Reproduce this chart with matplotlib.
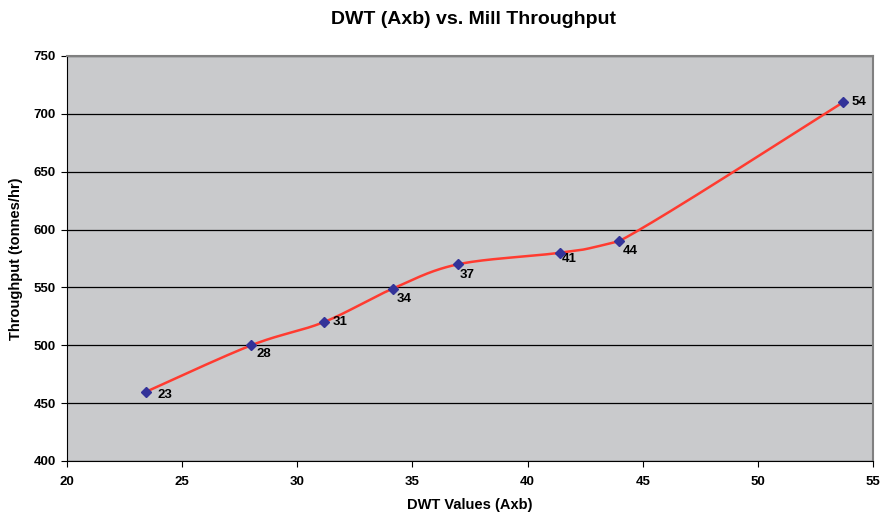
import numpy as np
import matplotlib
matplotlib.use("Agg")
import matplotlib.pyplot as plt

plt.rcParams["font.family"] = ["Liberation Sans", "DejaVu Sans"]

# DWT (Axb) values and matching mill throughput
dwt = [23.45, 28.0, 31.15, 34.15, 36.98, 41.4, 43.98, 53.7]
throughput = [460, 500, 520, 549, 570, 580, 590, 710]
point_labels = ["23", "28", "31", "34", "37", "41", "44", "54"]

# where each value label sits relative to its marker (pixels: right, down)
label_shift = [(11, 3), (5, 9), (9, 0), (4, 10), (2, 11), (2, 6), (4, 10), (8, 0)]

x_lim = (20, 55)
y_lim = (400, 750)


def smooth_curve(xs, ys, n=40):
    # Bezier segments with Catmull-Rom style control points, worked out in
    # pixel-like units so both axes weigh the same; control heights are kept
    # inside each segment so the curve never dips back
    w, h = 806.0, 405.0
    sx = (np.asarray(xs, float) - x_lim[0]) / (x_lim[1] - x_lim[0]) * w
    sy = (np.asarray(ys, float) - y_lim[0]) / (y_lim[1] - y_lim[0]) * h
    pts = np.column_stack([sx, sy])
    out = []
    t = np.linspace(0, 1, n)[:, None]
    for i in range(len(pts) - 1):
        p0 = pts[i - 1] if i > 0 else pts[i]
        p1, p2 = pts[i], pts[i + 1]
        p3 = pts[i + 2] if i + 2 < len(pts) else pts[i + 1]
        c1 = p1 + (p2 - p0) / 6
        c2 = p2 - (p3 - p1) / 6
        lo, hi = min(p1[1], p2[1]), max(p1[1], p2[1])
        c1[1] = np.clip(c1[1], lo, hi)
        c2[1] = np.clip(c2[1], lo, hi)
        seg = ((1 - t) ** 3) * p1 + 3 * ((1 - t) ** 2) * t * c1 \
            + 3 * (1 - t) * t ** 2 * c2 + t ** 3 * p2
        out.append(seg if i == 0 else seg[1:])
    curve = np.vstack(out)
    cx = curve[:, 0] / w * (x_lim[1] - x_lim[0]) + x_lim[0]
    cy = curve[:, 1] / h * (y_lim[1] - y_lim[0]) + y_lim[0]
    return cx, cy


fig = plt.figure(figsize=(8.81, 5.12), dpi=100)
ax = fig.add_axes([67 / 881, 51 / 512, 806 / 881, 405 / 512])
ax.set_facecolor("#c9cacc")

ax.set_xlim(*x_lim)
ax.set_ylim(*y_lim)
ax.set_xticks(np.arange(20, 56, 5))
ax.set_yticks(np.arange(400, 751, 50))
ax.grid(axis="y", color="black", linewidth=0.9)
ax.set_axisbelow(True)

for side in ["top", "right"]:
    ax.spines[side].set_color("#808080")
    ax.spines[side].set_linewidth(1.5)
for side in ["left", "bottom"]:
    ax.spines[side].set_color("black")

cx, cy = smooth_curve(dwt, throughput)
ax.plot(cx, cy, color="#ff3b30", linewidth=1.8, zorder=3)
ax.plot(dwt, throughput, linestyle="none", marker="D", markersize=5.5,
        color="#333399", zorder=4)

for x, y, lab, (dx, dy) in zip(dwt, throughput, point_labels, label_shift):
    ax.annotate(lab, (x, y), xytext=(dx * 0.72, -dy * 0.72),
                textcoords="offset points", fontsize=9.5, fontweight="bold",
                va="center", ha="left")

ax.tick_params(labelsize=9.5, length=4, direction="out")
for lbl in ax.get_xticklabels() + ax.get_yticklabels():
    lbl.set_fontweight("bold")
ax.tick_params(axis="x", pad=7)
ax.tick_params(axis="y", pad=4)

ax.set_xlabel("DWT Values (Axb)", fontsize=10.5, fontweight="bold", labelpad=7)
ax.set_ylabel("Throughput (tonnes/hr)", fontsize=10.5, fontweight="bold", labelpad=8)
fig.text(0.537, 0.961, "DWT (Axb) vs. Mill Throughput", ha="center", va="center",
         fontsize=14, fontweight="bold")

fig.savefig("out.png", dpi=100, facecolor="white")
